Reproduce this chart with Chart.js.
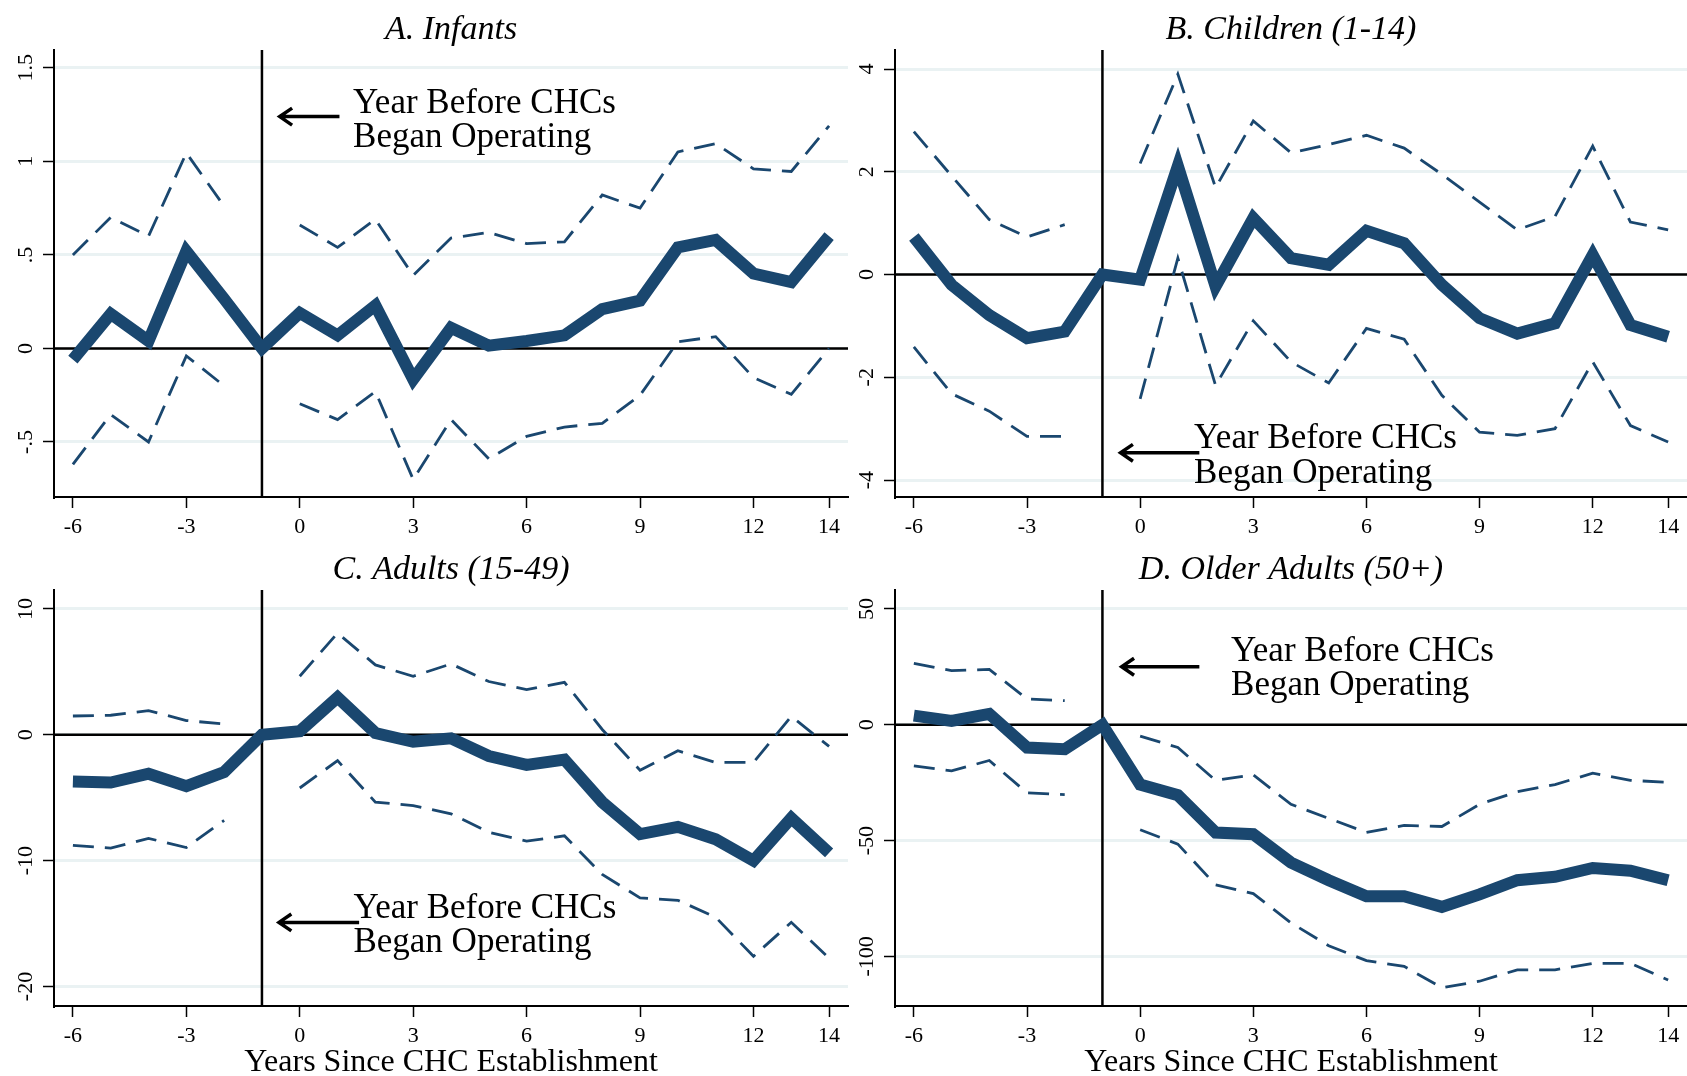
<!DOCTYPE html>
<html>
<head>
<meta charset="utf-8">
<script src="https://cdn.jsdelivr.net/npm/chart.js@4.4.1/dist/chart.umd.min.js"></script>
<style>
  html, body { margin: 0; padding: 0; background: #fff; overflow: hidden; }
  canvas { position: absolute; }
</style>
</head>
<body>
<canvas id="infants"></canvas>
<canvas id="children"></canvas>
<canvas id="adults"></canvas>
<canvas id="older"></canvas>
<script>
// years relative to CHC establishment (-1 = reference year, no CI)
const years = [-6, -5, -4, -3, -2, -1, 0, 1, 2, 3, 4, 5, 6, 7, 8, 9, 10, 11, 12, 13, 14]
const xTicks = [-6, -3, 0, 3, 6, 9, 12, 14]

const infantsEst = [-0.06, 0.185, 0.04, 0.52, 0.265, 0, 0.19, 0.07, 0.23, -0.165, 0.11, 0.015, 0.04, 0.07, 0.21, 0.256, 0.54, 0.58, 0.40, 0.355, 0.60]
const infantsHi = [0.50, 0.70, 0.60, 1.045, 0.76, null, 0.66, 0.54, 0.69, 0.39, 0.59, 0.62, 0.56, 0.57, 0.82, 0.75, 1.05, 1.095, 0.96, 0.946, 1.19]
const infantsLo = [-0.62, -0.353, -0.50, -0.04, -0.20, null, -0.296, -0.38, -0.23, -0.70, -0.38, -0.59, -0.47, -0.42, -0.40, -0.25, 0.036, 0.063, -0.156, -0.245, 0.0]
const infantsTicks = [-0.5, 0, 0.5, 1, 1.5]
const infantsLabels = ['-.5', '0', '.5', '1', '1.5']

const childrenEst = [0.73, -0.2, -0.79, -1.24, -1.11, 0, -0.1, 2.11, -0.23, 1.10, 0.32, 0.19, 0.85, 0.61, -0.2, -0.85, -1.15, -0.95, 0.38, -0.98, -1.21]
const childrenHi = [2.78, 1.92, 1.07, 0.73, 0.97, null, 2.16, 3.9, 1.69, 2.99, 2.37, 2.53, 2.71, 2.46, 1.95, 1.41, 0.87, 1.13, 2.5, 1.02, 0.87]
const childrenLo = [-1.41, -2.32, -2.66, -3.15, -3.15, null, -2.42, 0.32, -2.16, -0.9, -1.70, -2.11, -1.05, -1.26, -2.35, -3.07, -3.13, -3.0, -1.70, -2.94, -3.26]
const childrenTicks = [-4, -2, 0, 2, 4]
const childrenLabels = ['-4', '-2', '0', '2', '4']

const adultsEst = [-3.72, -3.8, -3.1, -4.08, -2.96, 0, 0.28, 2.96, 0.14, -0.56, -0.28, -1.69, -2.39, -1.97, -5.35, -7.89, -7.32, -8.31, -10.0, -6.62, -9.38]
const adultsHi = [1.49, 1.55, 1.92, 1.13, 0.85, null, 4.65, 8.08, 5.55, 4.65, 5.63, 4.23, 3.58, 4.17, 0.42, -2.82, -1.27, -2.2, -2.2, 1.46, -0.93]
const adultsLo = [-8.79, -9.01, -8.23, -8.96, -6.8, null, -4.23, -2.06, -5.35, -5.63, -6.28, -7.75, -8.45, -8.03, -11.1, -12.96, -13.15, -14.5, -17.6, -14.9, -17.75]
const adultsTicks = [-20, -10, 0, 10]
const adultsLabels = ['-20', '-10', '0', '10']

const olderEst = [3.98, 1.68, 4.74, -9.79, -10.55, 0, -25.8, -30.4, -46.5, -47.2, -59.5, -67.1, -74.0, -74.0, -78.6, -73.2, -67.1, -65.6, -61.8, -63, -67.1]
const olderHi = [26.5, 23.4, 23.9, 11.2, 10.4, null, -4.9, -9.8, -24.0, -21.6, -34.3, -40.4, -46.5, -43.4, -43.9, -34.3, -28.9, -25.8, -20.9, -24.0, -24.8]
const olderLo = [-17.7, -19.9, -15.4, -29.4, -30.1, null, -45.3, -51.5, -69.1, -72.9, -85.5, -95.4, -101.8, -104.3, -113.5, -110.7, -105.8, -105.8, -103, -103, -110.2]
const olderTicks = [-100, -50, 0, 50]
const olderLabels = ['-100', '-50', '0', '50']

const NAVY = '#1a476f'
const SERIF = "'Liberation Serif', 'Times New Roman', serif"
const NOTE = ['Year Before CHCs', 'Began Operating']

const toPts = vals => years.map((x, i) => ({ x: x, y: vals[i] }))

function arrow (ctx, x1, y1, x2, y2) {
  const ang = Math.atan2(y2 - y1, x2 - x1)
  const len = 15
  ctx.beginPath()
  ctx.moveTo(x1, y1)
  ctx.lineTo(x2, y2)
  ctx.moveTo(x2 + len * Math.cos(ang + Math.PI - 0.6), y2 + len * Math.sin(ang + Math.PI - 0.6))
  ctx.lineTo(x2, y2)
  ctx.lineTo(x2 + len * Math.cos(ang + Math.PI + 0.6), y2 + len * Math.sin(ang + Math.PI + 0.6))
  ctx.stroke()
}

function makeDecor (p) {
  return {
    id: 'decor',
    beforeDatasetsDraw (chart) {
      const { ctx, chartArea: a, scales: { x, y } } = chart
      const y0 = y.getPixelForValue(0)
      const xr = x.getPixelForValue(-1)
      ctx.save()
      ctx.strokeStyle = '#000'
      ctx.lineWidth = 2.5
      ctx.beginPath()
      ctx.moveTo(a.left, y0); ctx.lineTo(a.right, y0)
      ctx.moveTo(xr, a.top); ctx.lineTo(xr, a.bottom)
      ctx.stroke()
      ctx.restore()
    },
    afterDraw (chart) {
      const { ctx, chartArea: a, scales: { x, y } } = chart
      ctx.save()
      ctx.fillStyle = '#000'
      // rotated y labels
      ctx.font = '22px ' + SERIF
      ctx.textAlign = 'center'
      ctx.textBaseline = 'middle'
      p.ticks.forEach((v, i) => {
        ctx.save()
        ctx.translate(a.left - 28, y.getPixelForValue(v))
        ctx.rotate(-Math.PI / 2)
        ctx.fillText(p.labels[i], 0, 0)
        ctx.restore()
      })
      // panel title
      ctx.textBaseline = 'alphabetic'
      ctx.font = 'italic 34px ' + SERIF
      ctx.fillText(p.title, (a.left + a.right) / 2, a.top - 11)
      // x axis title
      if (p.xTitle) {
        ctx.font = '32px ' + SERIF
        ctx.fillText('Years Since CHC Establishment', (a.left + a.right) / 2, a.bottom + 65)
      }
      // annotation
      ctx.strokeStyle = '#000'
      ctx.lineWidth = 3.5
      arrow(ctx, x.getPixelForValue(p.note.tail), y.getPixelForValue(p.note.ay),
        x.getPixelForValue(p.note.tip), y.getPixelForValue(p.note.ay))
      ctx.font = '35px ' + SERIF
      ctx.textAlign = 'left'
      ctx.fillText(NOTE[0], x.getPixelForValue(p.note.tx), y.getPixelForValue(p.note.y1))
      ctx.fillText(NOTE[1], x.getPixelForValue(p.note.tx), y.getPixelForValue(p.note.y2))
      ctx.restore()
    }
  }
}

function panel (p) {
  const cv = document.getElementById(p.id)
  cv.width = p.box.w
  cv.height = p.box.h
  cv.style.left = p.box.x + 'px'
  cv.style.top = p.box.y + 'px'
  const plotLeft = p.plot.l - p.box.x
  const plotRight = p.plot.r - p.box.x
  const plotTop = p.plot.t - p.box.y
  const plotBottom = p.plot.b - p.box.y

  new Chart(cv, {
    type: 'line',
    data: {
      datasets: [
        { data: toPts(p.hi), borderColor: NAVY, borderWidth: 2.8, borderDash: [21, 11], pointRadius: 0, spanGaps: false },
        { data: toPts(p.lo), borderColor: NAVY, borderWidth: 2.8, borderDash: [21, 11], pointRadius: 0, spanGaps: false },
        { data: toPts(p.est), borderColor: NAVY, borderWidth: 12, pointRadius: 0, borderJoinStyle: 'miter' }
      ]
    },
    options: {
      responsive: false,
      animation: false,
      events: [],
      devicePixelRatio: 1,
      layout: { padding: { top: plotTop, right: p.box.w - plotRight, left: 0, bottom: 0 } },
      plugins: { legend: { display: false }, tooltip: { enabled: false } },
      scales: {
        x: {
          type: 'linear',
          min: -6.5,
          max: 14.5,
          afterBuildTicks: s => { s.ticks = xTicks.map(v => ({ value: v })) },
          afterFit: s => { s.height = p.box.h - plotBottom; s.paddingLeft = 0; s.paddingRight = 0 },
          ticks: { color: '#000', font: { family: SERIF, size: 22 }, maxRotation: 0, autoSkip: false, padding: 6 },
          grid: { drawOnChartArea: false, tickLength: 11, tickColor: '#000', tickWidth: 1.5 },
          border: { color: '#000', width: 2 }
        },
        y: {
          min: p.min,
          max: p.max,
          afterBuildTicks: s => { s.ticks = p.ticks.map(v => ({ value: v })) },
          afterFit: s => { s.width = plotLeft },
          ticks: { display: false },
          grid: { color: '#eaf2f3', lineWidth: 3, tickLength: 11, tickColor: '#000', tickWidth: 1.5 },
          border: { color: '#000', width: 2 }
        }
      }
    },
    plugins: [makeDecor(p)]
  })
}

panel({
  id: 'infants', title: 'A. Infants',
  box: { x: 0, y: 0, w: 850, h: 545 }, plot: { l: 54, r: 848, t: 50, b: 497 },
  min: -0.794, max: 1.595, ticks: infantsTicks, labels: infantsLabels,
  est: infantsEst, hi: infantsHi, lo: infantsLo,
  note: { tip: -0.53, tail: 1.05, ay: 1.239, tx: 1.41, y1: 1.259, y2: 1.077 }
})
panel({
  id: 'children', title: 'B. Children (1-14)',
  box: { x: 843, y: 0, w: 844, h: 545 }, plot: { l: 895, r: 1687, t: 50, b: 497 },
  min: -4.33, max: 4.37, ticks: childrenTicks, labels: childrenLabels,
  est: childrenEst, hi: childrenHi, lo: childrenLo,
  note: { tip: -0.52, tail: 1.57, ay: -3.47, tx: 1.43, y1: -3.378, y2: -4.059 }
})
panel({
  id: 'adults', title: 'C. Adults (15-49)', xTitle: true,
  box: { x: 0, y: 540, w: 850, h: 536 }, plot: { l: 54, r: 848, t: 590, b: 1006 },
  min: -21.55, max: 11.5, ticks: adultsTicks, labels: adultsLabels,
  est: adultsEst, hi: adultsHi, lo: adultsLo,
  note: { tip: -0.55, tail: 1.57, ay: -14.91, tx: 1.42, y1: -14.54, y2: -17.24 }
})
panel({
  id: 'older', title: 'D. Older Adults (50+)', xTitle: true,
  box: { x: 843, y: 540, w: 844, h: 536 }, plot: { l: 895, r: 1687, t: 590, b: 1006 },
  min: -121.4, max: 58.2, ticks: olderTicks, labels: olderLabels,
  est: olderEst, hi: olderHi, lo: olderLo,
  note: { tip: -0.49, tail: 1.57, ay: 25.08, tx: 2.41, y1: 27.67, y2: 13.0 }
})
</script>
</body>
</html>
